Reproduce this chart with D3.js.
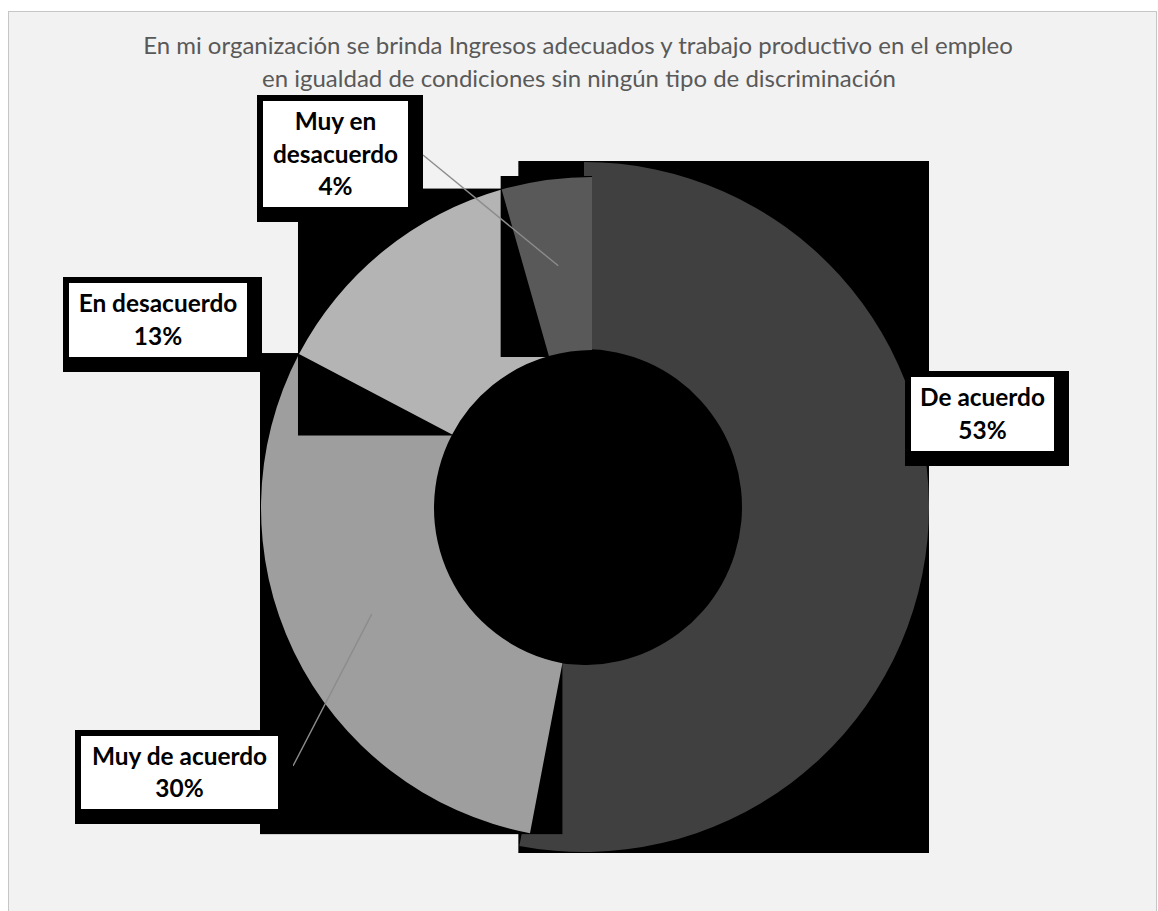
<!DOCTYPE html>
<html><head><meta charset="utf-8">
<script src="https://cdn.jsdelivr.net/npm/d3@7"></script>
<style>body{margin:0;background:#fff}svg{display:block}</style>
</head><body><svg id="c" width="1158" height="911"></svg>
<script>
// ---- data ----
const categories = ["De acuerdo", "Muy de acuerdo", "En desacuerdo", "Muy en desacuerdo"];
const values = [53.0, 29.7, 12.9, 4.4];
const labelLines = [["De acuerdo"], ["Muy de acuerdo"], ["En desacuerdo"], ["Muy en", "desacuerdo"]];
const titleLines = [
  "En mi organización se brinda Ingresos adecuados y trabajo productivo en el empleo",
  "en igualdad de condiciones sin ningún tipo de discriminación"
];

// ---- styles / layout ----
const colors = ["#404040", "#9e9e9e", "#b4b4b4", "#595959"];
const cx = 592, cy = 508, R = 331, r = 158;
const sliceLayout = [
  {dx: -8, dy: -1, R: 345},
  {dx: 0, dy: 0, R: 331},
  {dx: 0, dy: 0, R: 331},
  {dx: 0, dy: 0, R: 331}
];
const labelBoxes = [
  {x: 911, y: 377, w: 143, h: 74, anchor: null},
  {x: 81,  y: 736, w: 197, h: 73, anchor: [293, 766]},
  {x: 69,  y: 283, w: 178, h: 74, anchor: null},
  {x: 263, y: 101, w: 145, h: 106, anchor: [423, 155]}
];

const svg = d3.select("#c");
svg.append("rect").attr("x", 8.5).attr("y", 11.5).attr("width", 1148).attr("height", 905)
  .attr("fill", "#f2f2f2").attr("stroke", "#c6c6c6").attr("stroke-width", 1);

// title
const title = svg.append("g");
const t1 = title.append("text").attr("x", 578).attr("y", 54).text(titleLines[0]);
const t2 = title.append("text").attr("x", 579).attr("y", 87).text(titleLines[1]);
title.selectAll("text").attr("text-anchor", "middle").attr("fill", "#595959")
  .attr("font-family", "Lato, 'Open Sans', sans-serif").attr("font-size", 20);
const tScale = 870 / t1.node().getComputedTextLength();
title.selectAll("text").attr("font-size", 20 * tScale);

// pie
const total = d3.sum(values);
const pie = d3.pie().sort(null).value(d => d).startAngle(0).endAngle(2 * Math.PI);
const arcs = pie(values);
const pct = d3.format(".0%");

const slices = svg.append("g");
arcs.forEach((a, i) => {
  const L = sliceLayout[i];
  const g = slices.append("g").attr("transform", `translate(${cx + L.dx},${cy + L.dy})`);
  const arcGen = d3.arc().innerRadius(r).outerRadius(L.R);
  const p = g.append("path").attr("d", arcGen(a)).attr("fill", colors[i]);
  const bb = p.node().getBBox();
  g.insert("rect", "path").attr("x", bb.x - 1).attr("y", bb.y - 1)
    .attr("width", bb.width + 1).attr("height", bb.height + 2).attr("fill", "#000");
});

// leader lines
const midArc = d3.arc().innerRadius(r).outerRadius(R);
arcs.forEach((a, i) => {
  const b = labelBoxes[i];
  if (!b.anchor) return;
  const c = midArc.centroid(a);
  svg.append("line").attr("x1", b.anchor[0]).attr("y1", b.anchor[1])
    .attr("x2", cx + c[0]).attr("y2", cy + c[1])
    .attr("stroke", "#8c8c8c").attr("stroke-width", 1.4);
});

// labels
const labels = svg.append("g");
const probe = labels.append("text").attr("font-family", "Lato, 'Open Sans', sans-serif")
  .attr("font-weight", "bold").attr("font-size", 24).text("De acuerdo");
const fs = 24 * 125 / probe.node().getComputedTextLength();
probe.remove();

arcs.forEach((a, i) => {
  const b = labelBoxes[i];
  labels.append("rect").attr("x", b.x - 6).attr("y", b.y - 6).attr("width", b.w + 21).attr("height", b.h + 21).attr("fill", "#000");
  labels.append("rect").attr("x", b.x).attr("y", b.y).attr("width", b.w).attr("height", b.h).attr("fill", "#fff");
  const lines = labelLines[i].concat([pct(a.data / total)]);
  const midY = b.y + b.h / 2;
  const y0 = midY - (lines.length - 1) * 32.5 / 2 + 8.5;
  lines.forEach((ln, k) => {
    labels.append("text").attr("x", b.x + b.w / 2).attr("y", y0 + k * 32.5)
      .attr("text-anchor", "middle").attr("font-family", "Lato, 'Open Sans', sans-serif")
      .attr("font-weight", "bold").attr("font-size", fs).attr("fill", "#000").text(ln);
  });
});
</script></body></html>
